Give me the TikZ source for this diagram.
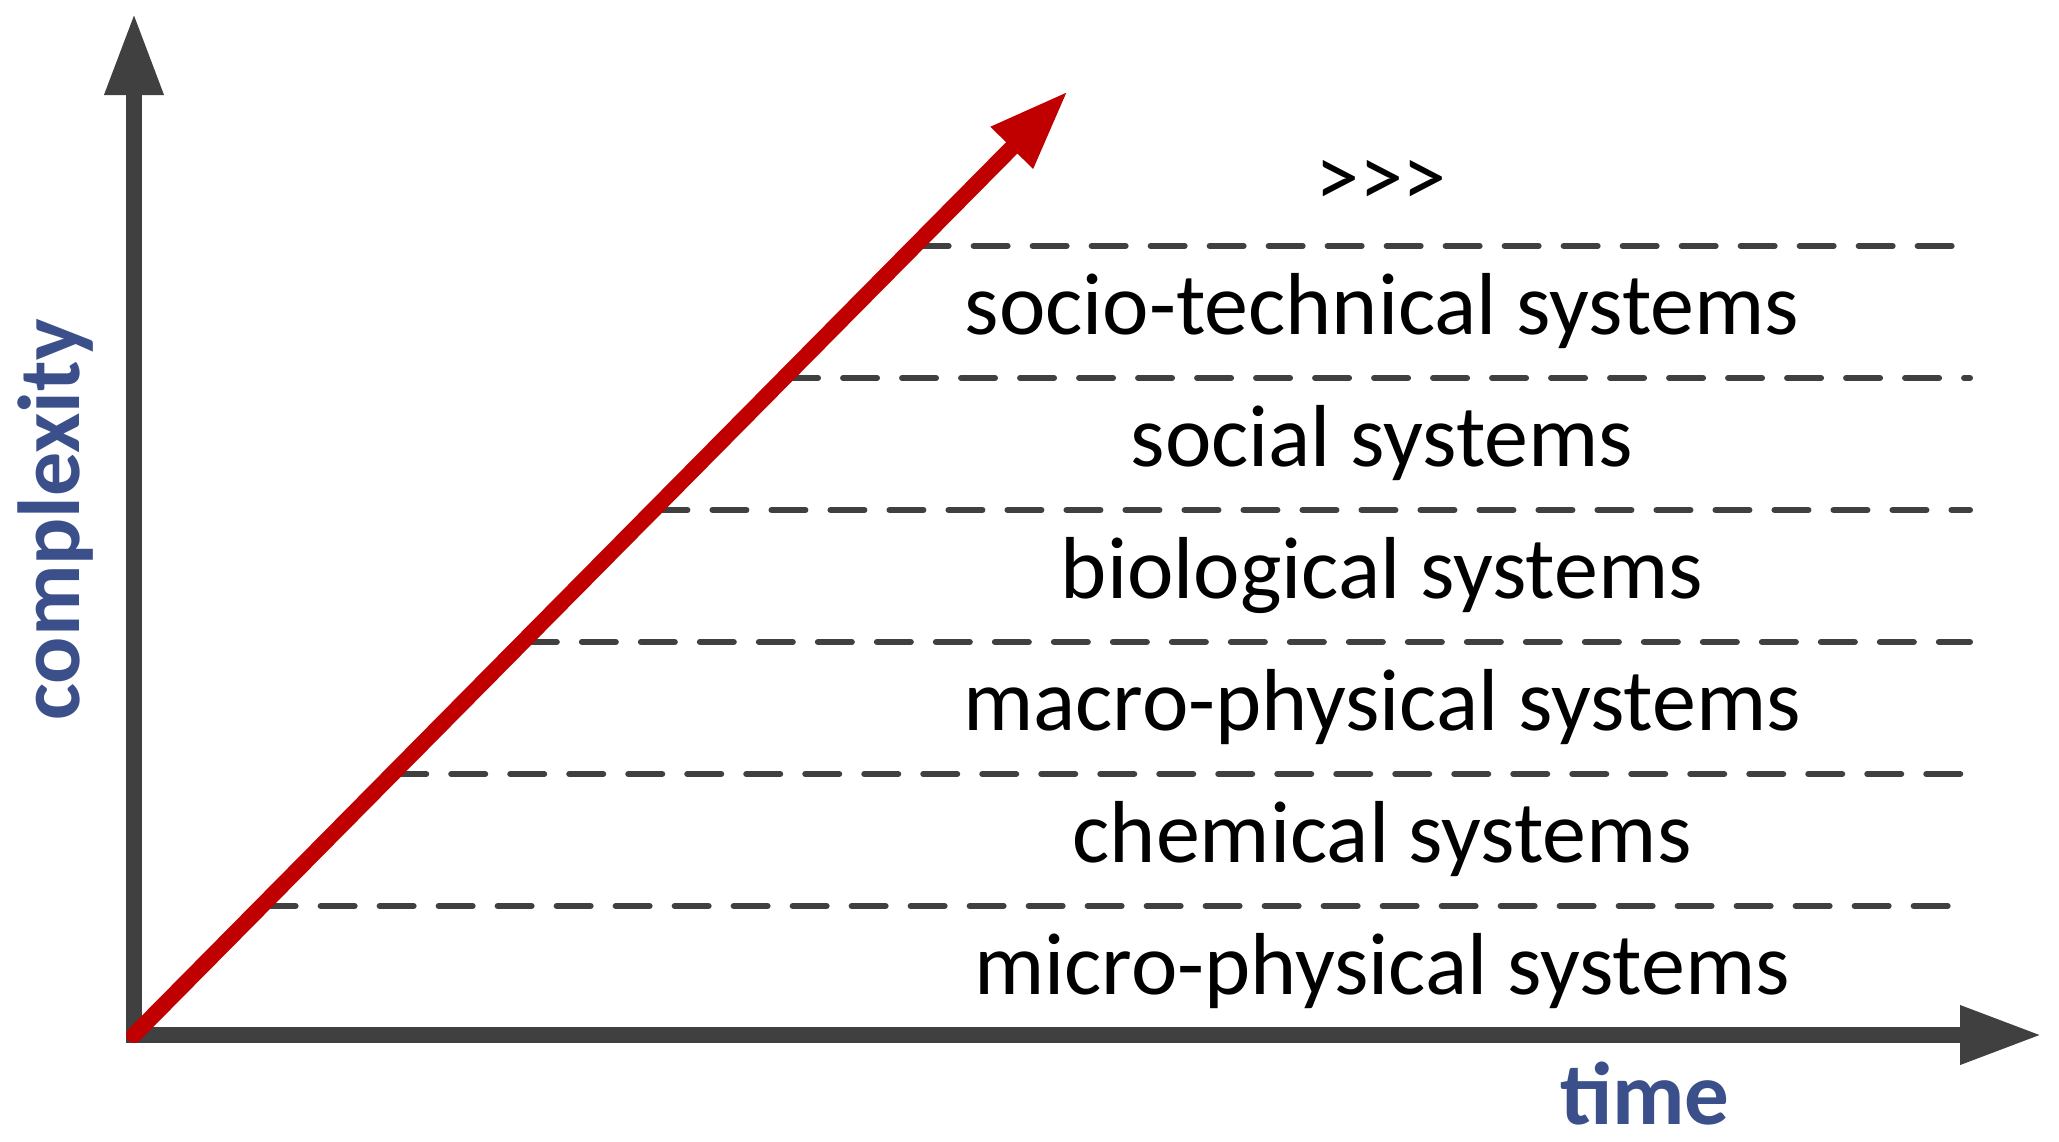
\documentclass[tikz,border=0pt]{standalone}
\usepackage{fontspec}
\setmainfont{Carlito}
\usetikzlibrary{arrows.meta}
\definecolor{axisgray}{HTML}{404040}
\definecolor{arrowred}{HTML}{C00000}
\definecolor{labelblue}{HTML}{3B4F8A}
\tikzset{
  axisline/.style={draw=axisgray, line width=8pt, line join=miter,
    {Triangle[length=41pt,width=27.5pt]}-{Triangle[length=41pt,width=27.5pt]}},
  redarrow/.style={draw=arrowred, line width=8pt, line cap=round,
    -{Triangle[length=40pt,width=27.5pt]}},
  levelline/.style={draw=axisgray, line width=3pt, line cap=round,
    dash pattern=on 17pt off 12.5pt},
  levellabel/.style={anchor=base, inner sep=0pt, font=\fontsize{44}{52}\selectfont},
  axislabel/.style={inner sep=0pt, text=labelblue, font=\bfseries\fontsize{44}{52}\selectfont}
}
\begin{document}
\begin{tikzpicture}[x=0.5pt,y=-0.5pt]
\useasboundingbox (0,0) rectangle (2059,1141);
% key points
\coordinate (O) at (134,1035);
\coordinate (Ytip) at (134,13);
\coordinate (Xtip) at (2042,1035);
\coordinate (Rtip) at (1068,91);
% dashed level lines (start on the red arrow)
\foreach \i/\y in {1/246,2/378,3/510,4/642,5/774,6/906}{
  \coordinate (L\i s) at ({134+(1035-\y)*0.98941},\y);
  \coordinate (L\i e) at (1970,\y);
  \draw[levelline] (L\i s) -- (L\i e);
}
% axes
\draw[axisline] (Ytip) -- (O) -- (Xtip);
% red arrow
\draw[redarrow] (O) -- (Rtip);
% labels
\node[inner sep=0pt, font=\fontsize{44}{52}\selectfont] (more) at (1381,183) {>{}>{}>};
\node[levellabel] (st)   at (1382,334) {socio-technical systems};
\node[levellabel] (soc)  at (1382,466) {social systems};
\node[levellabel] (bio)  at (1382,598) {biological systems};
\node[levellabel] (mac)  at (1382,730) {macro-physical systems};
\node[levellabel] (chem) at (1382,862) {chemical systems};
\node[levellabel] (mic)  at (1382,994) {micro-physical systems};
\node[axislabel, rotate=90, anchor=base] (cx) at (79,520) {complexity};
\node[axislabel, anchor=base, font=\bfseries\fontsize{44.5}{52}\selectfont] (tm) at (1645,1124) {time};
\end{tikzpicture}
\end{document}
